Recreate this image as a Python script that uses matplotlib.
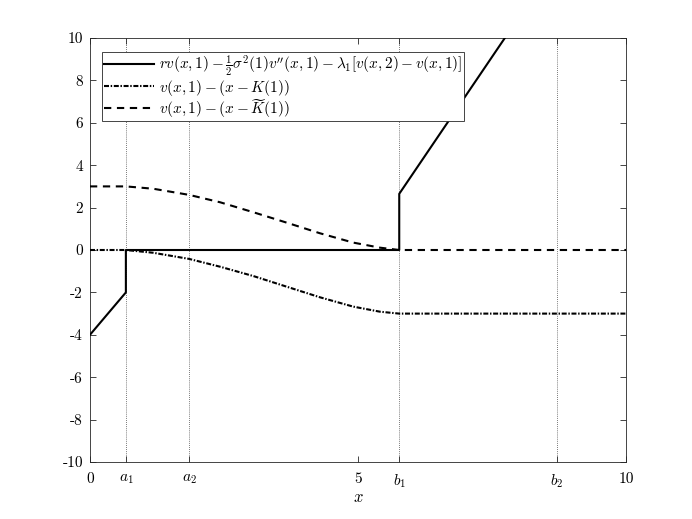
import matplotlib
matplotlib.use('Agg')
import matplotlib.pyplot as plt

plt.rcParams['font.family'] = ['cmr10', 'DejaVu Serif']
plt.rcParams['mathtext.fontset'] = 'cm'
plt.rcParams['axes.unicode_minus'] = False
plt.rcParams['font.size'] = 11

# special x positions
a1, a2, b1, b2 = 0.67, 1.85, 5.77, 8.71

# solid: r v - 1/2 sigma^2 v'' - lambda [..]
x_res = [0.0, a1, a1, b1, b1, 7.74, 10.0]
y_res = [-4.0, -2.0, 0.0, 0.0, 2.65, 10.0, 18.4]

# dash-dot: v(x,1) - (x - K(1))
x_k = [0.0, 0.67, 1.18, 1.85, 2.43, 3.05, 3.67, 4.29, 4.91, 5.41, 5.77, 10.0]
y_k = [0.0, 0.0, -0.13, -0.42, -0.79, -1.23, -1.73, -2.23, -2.67, -2.91, -3.0, -3.0]

# dashed: v(x,1) - (x - Ktilde(1))
x_kt = [0.0, 0.67, 1.18, 1.85, 2.43, 3.05, 3.67, 4.29, 4.91, 5.41, 5.77, 10.0]
y_kt = [3.0, 3.0, 2.89, 2.6, 2.25, 1.78, 1.29, 0.79, 0.35, 0.11, 0.0, 0.0]

xticks = [0, a1, a2, 5, b1, b2, 10]
xticklabels = ['0', '$a_1$', '$a_2$', '5', '$b_1$', '$b_2$', '10']
yticks = list(range(-10, 11, 2))

labels = [r'$rv(x,1)-\frac{1}{2}\sigma^2(1)v^{\prime\prime}(x,1)-\lambda_1[v(x,2)-v(x,1)]$',
          r'$v(x,1)-(x-K(1))$',
          r'$v(x,1)-(x-\widetilde{K}(1))$']

fig = plt.figure(figsize=(6.92, 5.19), dpi=100)
ax = fig.add_axes([0.130, 0.1098, 0.7746, 0.817])

for xv in [a1, a2, b1, b2]:
    ax.axvline(xv, color='0.3', linestyle=(0, (1, 1.5)), linewidth=0.6, zorder=1)

ax.plot(x_res, y_res, color='k', linewidth=1.5, label=labels[0], zorder=3)
ax.plot(x_k, y_k, color='k', linewidth=1.5, dashes=(2.4, 0.8, 0.7, 0.8), label=labels[1], zorder=3)
ax.plot(x_kt, y_kt, color='k', linewidth=1.5, dashes=(3.5, 2.7), label=labels[2], zorder=3)

ax.set_xlim(0, 10)
ax.set_ylim(-10, 10)
ax.set_xticks(xticks)
ax.set_xticklabels(xticklabels)
ax.set_yticks(yticks)
ax.set_yticklabels([str(v) for v in yticks])
ax.tick_params(direction='in', top=True, right=True, length=4, width=0.6,
               colors='0.15', labelcolor='k', labelsize=11)
ax.tick_params(axis='x', pad=7.5)
ax.tick_params(axis='y', pad=5)
for s in ax.spines.values():
    s.set_color('0.15')
    s.set_linewidth(0.6)
ax.set_xlabel('$x$', fontsize=12, labelpad=0)

leg = ax.legend(loc='upper left', bbox_to_anchor=(0.023, 0.967), fancybox=False,
                edgecolor='0.15', framealpha=1, fontsize=11, handlelength=3.3,
                handletextpad=0.3, labelspacing=-0.05, borderpad=0.1, borderaxespad=0)
leg.get_frame().set_linewidth(0.6)

fig.savefig('out.png', dpi=100)
